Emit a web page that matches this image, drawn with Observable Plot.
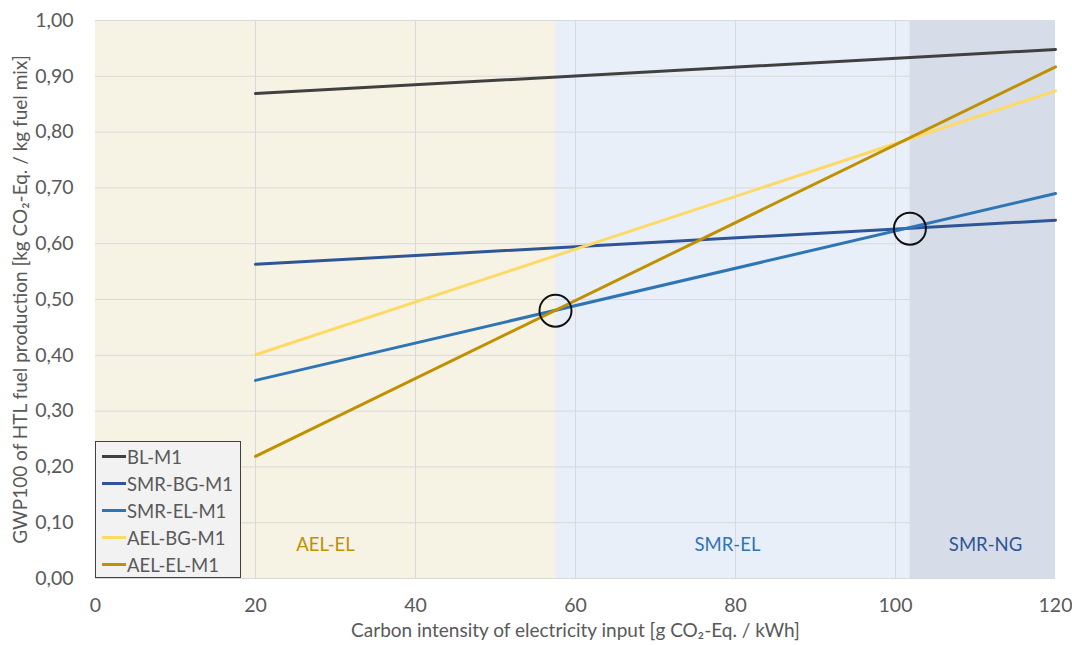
<!DOCTYPE html>
<html><head><meta charset="utf-8">
<script src="https://cdn.jsdelivr.net/npm/d3@7"></script>
<script src="https://cdn.jsdelivr.net/npm/@observablehq/plot@0.6"></script>
<style>
body{margin:0;background:#fff;font-family:Lato,"Open Sans",sans-serif;}
#chart{position:relative;width:1072px;height:645px;}
#legend{position:absolute;left:95px;top:441px;width:146px;height:137px;border:1px solid #404040;background:#f2f2f2;box-sizing:border-box;padding-top:1px;}
.li{display:flex;align-items:center;height:27px;font-size:18.5px;color:#595959;}
.sw{width:24px;height:3px;margin-left:6px;margin-right:1px;}
</style>
</head><body><div id="chart"><div id="legend"></div></div>
<script>
// x positions of line endpoints (g CO2-Eq./kWh)
const xValues = [20, 120];
const seriesNames = ["BL-M1", "SMR-BG-M1", "SMR-EL-M1", "AEL-BG-M1", "AEL-EL-M1"];
const seriesColors = ["#404040", "#2f5597", "#2e75b6", "#ffd966", "#bf9000"];
const BL_M1 = [0.869, 0.948];
const SMR_BG_M1 = [0.563, 0.642];
const SMR_EL_M1 = [0.355, 0.690];
const AEL_BG_M1 = [0.401, 0.874];
const AEL_EL_M1 = [0.219, 0.917];
const seriesValues = [BL_M1, SMR_BG_M1, SMR_EL_M1, AEL_BG_M1, AEL_EL_M1];

// shaded regions
const regionNames = ["AEL-EL", "SMR-EL", "SMR-NG"];
const regionBounds = [0, 57.5, 101.8, 120];
const regionFills = ["#f6f3e5", "#e9eff8", "#d6dde8"];
const regionTextColors = ["#bf9000", "#2e75b6", "#2f5597"];
const regionLabelX = [28.75, 79, 111.25];
const regionLabelY = 0.059;

// highlighted intersections
const circleX = [57.5, 101.8];
const circleY = [0.480, 0.627];

const xTicks = [0, 20, 40, 60, 80, 100, 120];
const yTicks = [0, 0.1, 0.2, 0.3, 0.4, 0.5, 0.6, 0.7, 0.8, 0.9, 1.0];

const lineData = [];
seriesNames.forEach((s, i) => xValues.forEach((x, j) => lineData.push({series: s, x, y: seriesValues[i][j]})));
const regions = regionNames.map((n, i) => ({name: n, x1: regionBounds[i], x2: regionBounds[i + 1], fill: regionFills[i], tc: regionTextColors[i], lx: regionLabelX[i]}));
const circles = circleX.map((x, i) => ({x, y: circleY[i]}));
const fmt = d => d3.format(".2f")(d).replace(".", ",");

const plot = Plot.plot({
  width: 1072, height: 645,
  marginLeft: 95, marginRight: 17, marginTop: 20, marginBottom: 67,
  style: {fontFamily: "Lato, 'Open Sans', sans-serif", fontSize: "19.5px", color: "#595959", background: "#fff"},
  x: {domain: [0, 120], label: null},
  y: {domain: [0, 1], label: null},
  color: {domain: seriesNames, range: seriesColors},
  marks: [
    Plot.rect(regions.slice(0, 2), {x1: "x1", x2: "x2", y1: 0, y2: 1, fill: d => d.fill}),
    Plot.gridX(xTicks.filter(d => d > 0 && d < 120), {stroke: "#d9d9d9", strokeOpacity: 1, strokeWidth: 1}),
    Plot.gridY(yTicks.filter(d => d > 0), {stroke: "#d9d9d9", strokeOpacity: 1, strokeWidth: 1}),
    Plot.rect(regions.slice(2), {x1: "x1", x2: "x2", y1: 0, y2: 1, fill: d => d.fill}),
    Plot.ruleY([0], {stroke: "#d9d9d9"}),
    Plot.axisX({ticks: xTicks, tickSize: 0, tickPadding: 20, fill: "#595959", fontSize: 19.5, label: null}),
    Plot.axisY({ticks: yTicks, tickSize: 0, tickPadding: 22, tickFormat: fmt, fill: "#595959", fontSize: 19.5, label: null}),
    Plot.line(lineData, {x: "x", y: "y", z: "series", stroke: "series", strokeWidth: 3}),
    Plot.dot(circles, {x: "x", y: "y", r: 16, stroke: "#111", strokeWidth: 2, fill: "none"}),
    Plot.text(regions, {x: "lx", y: regionLabelY, text: "name", fill: d => d.tc, fontSize: 18.5}),
    Plot.text(["Carbon intensity of electricity input [g CO₂-Eq. / kWh]"], {frameAnchor: "bottom", dy: 58, textAnchor: "middle", text: d => d, fill: "#595959", fontSize: 19}),
    Plot.text(["GWP100 of HTL fuel production [kg CO₂-Eq. / kg fuel mix]"], {frameAnchor: "left", dx: -75, rotate: -90, textAnchor: "middle", text: d => d, fill: "#595959", fontSize: 19})
  ]
});
document.getElementById("chart").prepend(plot);

const legend = document.getElementById("legend");
seriesNames.forEach((s, i) => {
  const row = document.createElement("div");
  row.className = "li";
  row.innerHTML = `<span class="sw" style="background:${seriesColors[i]}"></span><span>${s}</span>`;
  legend.appendChild(row);
});
</script>
</body></html>
